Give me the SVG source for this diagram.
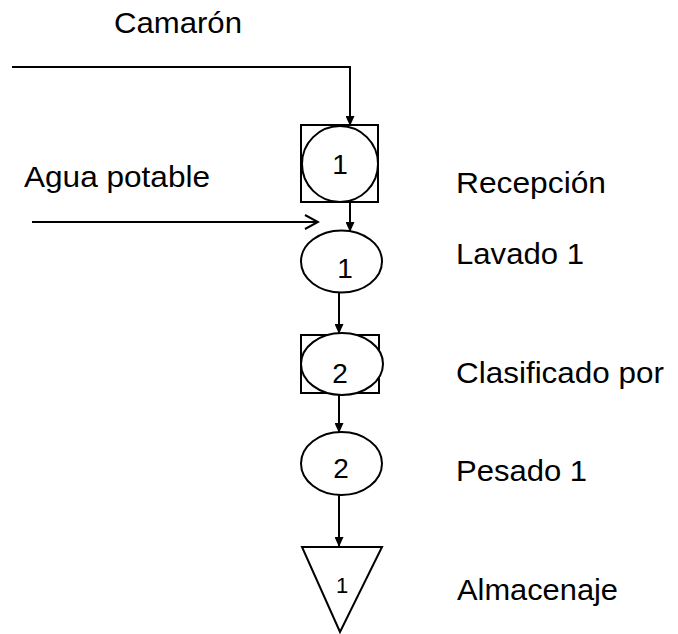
<svg xmlns="http://www.w3.org/2000/svg" width="678" height="634" viewBox="0 0 678 634">
  <defs>
    <marker id="solid" markerUnits="userSpaceOnUse" markerWidth="10" markerHeight="9" refX="10" refY="4.5" orient="auto">
      <path d="M0,0 L10,4.5 L0,9 Z" fill="#000"/>
    </marker>
    <marker id="open" markerUnits="userSpaceOnUse" markerWidth="16" markerHeight="16" refX="14" refY="8" orient="auto">
      <path d="M1,1 L14,8 L1,15" fill="none" stroke="#000" stroke-width="2"/>
    </marker>
  </defs>
  <style>
    .shape { fill: #fff; stroke: #000; stroke-width: 2; }
    .wire { fill: none; stroke: #000; stroke-width: 2; }
    .lbl { font-family: "Liberation Sans", Arial, sans-serif; font-size: 29px; fill: #000; }
    .num { font-family: "Liberation Sans", Arial, sans-serif; font-size: 28px; fill: #000; text-anchor: middle; }
  </style>
  <rect width="678" height="634" fill="#fff"/>

  <!-- inputs -->
  <text class="lbl" x="114" y="33" textLength="128" lengthAdjust="spacingAndGlyphs">Camarón</text>
  <text class="lbl" x="24" y="187" textLength="186" lengthAdjust="spacingAndGlyphs">Agua potable</text>

  <!-- connectors -->
  <g id="connectors">
    <polyline class="wire" points="12,67 350,67 350,126" marker-end="url(#solid)"/>
    <line class="wire" x1="32" y1="222" x2="318" y2="222" marker-end="url(#open)"/>
    <line class="wire" x1="350" y1="202" x2="350" y2="232" marker-end="url(#solid)"/>
    <line class="wire" x1="339" y1="292" x2="339" y2="334" marker-end="url(#solid)"/>
    <line class="wire" x1="339" y1="393" x2="339" y2="433" marker-end="url(#solid)"/>
    <line class="wire" x1="339" y1="494" x2="339" y2="547" marker-end="url(#solid)"/>
  </g>

  <!-- combined operation/inspection: reception -->
  <g id="recepcion">
    <rect class="shape" x="301" y="125" width="77" height="77"/>
    <circle class="shape" cx="340" cy="164" r="38"/>
    <text class="num" x="340" y="174">1</text>
    <text class="lbl" x="456" y="193" textLength="150" lengthAdjust="spacingAndGlyphs">Recepción</text>
  </g>

  <!-- operation: washing -->
  <g id="lavado">
    <ellipse class="shape" cx="341.5" cy="261.5" rx="40.5" ry="31"/>
    <text class="num" x="345" y="278">1</text>
    <text class="lbl" x="456" y="264" textLength="128" lengthAdjust="spacingAndGlyphs">Lavado 1</text>
  </g>

  <!-- combined operation/inspection: grading -->
  <g id="clasificado">
    <rect class="shape" x="301" y="335" width="78" height="58"/>
    <ellipse class="shape" cx="342" cy="364" rx="41" ry="31"/>
    <text class="num" x="340" y="383">2</text>
    <text class="lbl" x="456" y="383" textLength="208" lengthAdjust="spacingAndGlyphs">Clasificado por</text>
  </g>

  <!-- operation: weighing -->
  <g id="pesado">
    <ellipse class="shape" cx="341.5" cy="463.5" rx="40.5" ry="31.5"/>
    <text class="num" x="341" y="478">2</text>
    <text class="lbl" x="456" y="481" textLength="131" lengthAdjust="spacingAndGlyphs">Pesado 1</text>
  </g>

  <!-- storage -->
  <g id="almacenaje">
    <polygon class="shape" points="302,547 382,547 340,632"/>
    <text class="num" x="342" y="593" style="font-size:22px">1</text>
    <text class="lbl" x="457" y="600" textLength="161" lengthAdjust="spacingAndGlyphs">Almacenaje</text>
  </g>
</svg>
